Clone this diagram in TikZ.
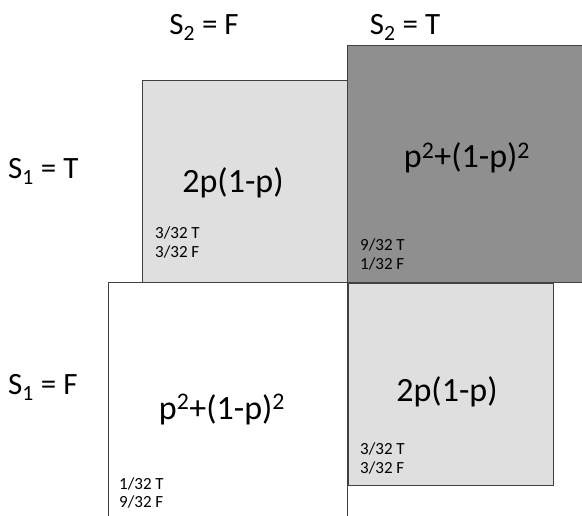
\documentclass[tikz,border=0pt]{standalone}
\usepackage{fontspec}
\setmainfont{Carlito}
\usetikzlibrary{positioning}

\tikzset{
  cell/.style={draw=black!75, line width=0.9pt},
  big/.style={font=\fontsize{34}{37}\selectfont, anchor=base, inner sep=0pt},
  head/.style={font=\fontsize{31}{34}\selectfont, inner sep=0pt},
  tally/.style={font=\fontsize{17}{19}\selectfont, anchor=base west, inner sep=0pt},
}

\begin{document}
\begin{tikzpicture}[x=1pt, y=-1pt]
    \useasboundingbox (0,0) rectangle (582,516);
    \clip (0,0) rectangle (582,516);
    % the four cells
    \filldraw[cell, fill=gray!25] (142,80) rectangle (347,282);
    \filldraw[cell, fill=gray!88] (347,45) rectangle (600,282);
    \filldraw[cell, fill=white] (108,282) rectangle (347,530);
    \filldraw[cell, fill=gray!25] (348,283) rectangle (553,485);

    % headings
    \node[head, anchor=base] (colF) at (204,35) {S\textsubscript{2} = F};
    \node[head, anchor=base] (colT) at (405,35) {S\textsubscript{2} = T};
    \node[head, anchor=base west] (rowT) at (8,179) {S\textsubscript{1} = T};
    \node[head, anchor=base west] (rowF) at (8,395) {S\textsubscript{1} = F};

    % probabilities
    \node[big] (tf) at (233,193) {2p(1-p)};
    \node[big] (tt) at (467,168) {p\textsuperscript{2}+(1-p)\textsuperscript{2}};
    \node[big] (ff) at (222,419) {p\textsuperscript{2}+(1-p)\textsuperscript{2}};
    \node[big] (ft) at (447,402) {2p(1-p)};

    % counts
    \node[tally] (tfT) at (155,239) {3/32 T};
    \node[tally] (tfF) at (155,258) {3/32 F};
    \node[tally] (ttT) at (360,251) {9/32 T};
    \node[tally] (ttF) at (360,270) {1/32 F};
    \node[tally] (ffT) at (119,489) {1/32 T};
    \node[tally] (ffF) at (119,507) {9/32 F};
    \node[tally] (ftT) at (360,454) {3/32 T};
    \node[tally] (ftF) at (360,473) {3/32 F};
\end{tikzpicture}
\end{document}
